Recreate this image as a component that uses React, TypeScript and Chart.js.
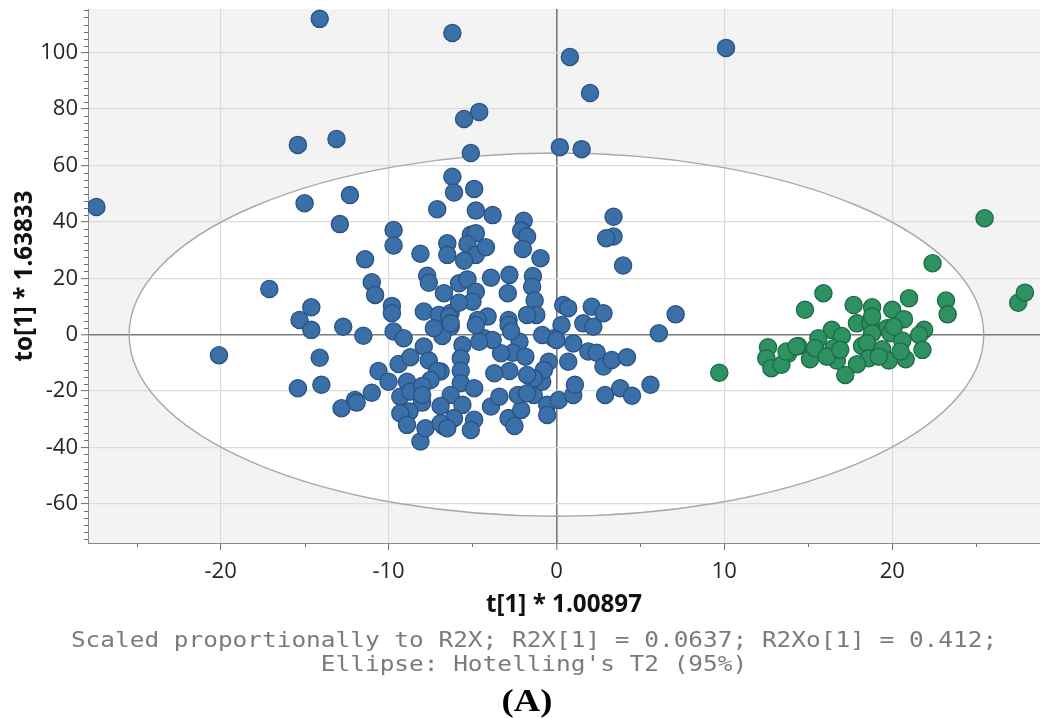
import React, { useEffect, useRef } from "react";
import { Chart, registerables } from "chart.js";

Chart.register(...registerables);

// ---- axis ranges and tick labels ----
const X_MIN = -27.9;
const X_MAX = 28.8;
const Y_MIN = -73.9;
const Y_MAX = 115.5;
const X_TICKS = [-20, -10, 0, 10, 20];
const Y_TICKS = [-60, -40, -20, 0, 20, 40, 60, 80, 100];
const X_MINOR_TICKS = [-25, -15, -5, 5, 15, 25];
const Y_MINOR_STEP = 2.5;

// ---- texts ----
const X_TITLE = "t[1] * 1.00897";
const Y_TITLE = "to[1] * 1.63833";
const CAPTION_LINES = [
  "Scaled proportionally to R2X; R2X[1] = 0.0637; R2Xo[1] = 0.412;",
  "Ellipse: Hotelling's T2 (95%)",
];
const PANEL_LABEL = "(A)";

// ---- Hotelling's T2 ellipse semi-axes (data units) ----
const ELLIPSE_T = 25.45;
const ELLIPSE_TO = 64.4;

// ---- scores: [t, to] ----
const blueScores: [number, number][] = [
  [-27.4, 45.3], [-14.1, 112], [-6.2, 107], [10.1, 101.7], [0.8, 98.5], [2.0, 85.7],
  [-15.4, 67.3], [-13.1, 69.4], [-4.6, 79], [-5.5, 76.5], [-5.1, 64.4], [0.2, 66.5], [1.5, 65.8],
  [-15.0, 46.6], [-12.3, 49.5], [-12.9, 39.2], [-17.1, 16.2], [-20.1, -7.3],
  [-15.3, 5.2], [-14.6, 9.7], [-14.6, 1.7], [-12.7, 2.8], [-14.1, -8.2], [-15.4, -19], [-14.0, -17.8],
  [-12.8, -26.1], [-12.0, -23.2], [-11.9, -24.1],
  [-9.7, 37.1], [-9.7, 31.6], [-11.4, 26.7], [-8.1, 28.7], [-7.1, 44.5], [-6.2, 56], [-6.1, 50.4],
  [-6.5, 32.4], [-6.5, 28.3], [-11.0, 18.6], [-10.8, 14.1], [-7.7, 20.9], [-7.6, 18.4], [-6.7, 14.7],
  [-9.8, 10.2], [-9.8, 7.6], [-7.9, 8.2], [-7.0, 7.0], [-6.3, 7.7],
  [-4.9, 51.7], [-4.8, 44], [-3.8, 42.4], [-1.95, 40.4], [-2.1, 36.9], [-1.75, 34.8], [-2.0, 30.4],
  [-0.95, 27.1], [3.4, 41.8], [3.4, 34.8], [2.96, 34.2], [3.97, 24.5], [-5.1, 35.4], [-4.8, 36],
  [-5.3, 32.1], [-4.8, 28.3], [-5.5, 26.2], [-4.2, 31], [-3.9, 20.2], [-2.8, 21.2], [-2.9, 14.7],
  [-1.4, 20.8], [-1.45, 17], [-1.3, 12.1], [-1.2, 7], [-1.75, 7], [-5.8, 18.2], [-5.3, 19.6],
  [-4.8, 15.2], [-5.0, 11.7], [-5.8, 11.3], [-4.1, 6.4], [-2.85, 5.2], [-4.7, 5.2],
  [0.4, 10.5], [0.7, 9.4], [2.1, 9.9], [2.8, 7.6], [1.6, 4],
  [0.3, 3.4], [2.2, 2.8], [6.1, 0.5], [1.0, -3.1], [0.7, -9.6], [1.9, -6.0], [2.4, -6.4], [2.8, -11.3],
  [3.3, -9], [4.2, -8.0], [5.6, -17.8], [2.9, -21.4], [3.8, -19], [4.5, -21.7],
  [-0.16, -1.3], [-0.85, -0.1], [-2.2, -2.5], [-2.6, -6.4], [-1.85, -7.8], [-2.8, -12.9], [-3.7, -13.7],
  [-3.3, -6.6], [-4.3, -1.3], [-3.8, -1.9], [-4.6, -2.5], [-4.8, 3.4], [-2.85, 3.4], [-2.7, 1.1],
  [-5.6, -3.7], [-5.7, -8.4], [-5.7, -12.8], [-5.7, -17.2], [-6.4, 6.4], [-6.3, 2.8], [-6.8, -0.5],
  [-6.9, -13.1], [-6.3, -21.4], [-5.6, -24.9], [-4.9, -19], [-4.9, -30.2], [-6.1, -29.6], [-5.1, -33.8],
  [-6.7, -32.6], [-3.9, -25.5], [-3.4, -22], [-2.85, -29.6], [-2.5, -32.4], [-2.1, -26.7], [-2.3, -21.4],
  [-1.35, -21.4], [-0.85, -16.7], [-0.55, -24.9], [-0.55, -28.5], [0.14, -23.2], [1.0, -21.4], [1.1, -17.8],
  [-0.46, -9.6], [-0.75, -12.5], [-1.35, -15.5], [-1.75, -14.3],
  [-11.5, -0.4], [-11.0, -20.6], [-10.6, -12.9], [-10.0, -16.7], [-9.4, -10.4], [-8.7, -8.0], [-7.9, -4.2],
  [-7.6, -9.2], [-7.1, -12.9], [-7.5, -16.1], [-9.3, -22], [-8.9, -16.7], [-8.7, -20.2], [-8.0, -18.2],
  [-8.0, -24.1], [-8.75, -27.3], [-9.3, -27.9], [-8.9, -32], [-8.1, -37.9], [-7.8, -33.2], [-6.9, -25.3],
  [-6.9, -31.4], [-6.5, -33.2], [-9.7, 1.1], [-9.1, -1.3], [-7.3, 2.3], [-6.3, 4.0],
  [7.1, 7.2], [0, -1.9], [-8.0, -21.4], [-1.75, -20.8],
];

const greenScores: [number, number][] = [
  [25.5, 41.3], [22.4, 25.3], [9.7, -13.5], [14.8, 8.8], [15.9, 14.7], [17.7, 10.5], [18.8, 9.7],
  [20.0, 8.8], [21.0, 12.9], [23.2, 12.1], [23.3, 7.2], [27.5, 11.3], [27.9, 14.9], [17.9, 4.0],
  [18.7, 4.0], [18.8, 6.4], [20.7, 5.5], [19.7, 2.3], [19.9, 0.5], [18.8, 0.5], [21.9, 1.7],
  [21.6, -0.1], [16.4, 1.7], [17.0, -0.5], [15.6, -1.3], [18.2, -4.0], [18.5, -3.0], [19.4, -5.2],
  [20.6, -2.1], [21.8, -5.4], [20.8, -8.7], [19.8, -9.2], [18.6, -8.4], [17.9, -10.5], [17.2, -14.3],
  [16.7, -9.2], [16.5, -4.8], [15.1, -8.7], [14.4, -4.0], [13.8, -6.8], [12.6, -4.5], [12.5, -8.4],
  [12.8, -11.9], [13.4, -10.7], [13.7, -6.0], [14.3, -4.2], [15.4, -4.8], [16.1, -7.8], [16.9, -5.4],
  [19.2, -7.8], [20.5, -6.0], [20.1, 2.8],
];

const SANS = '"Open Sans", "Noto Sans", sans-serif';

// layout of the texts under the x axis (pixels)
const CAPTION_CX = 534;
const CAPTION_BASELINES = [647, 671];
const CAPTION_STRETCH = 1.11;
const LABEL_CX = 527;
const LABEL_BASELINE = 711;
const LABEL_STRETCH = 1.18;

function ellipseGeom(chart: any) {
  const x = chart.scales.x, y = chart.scales.y;
  const cx = x.getPixelForValue(0), cy = y.getPixelForValue(0);
  return {
    cx,
    cy,
    rx: x.getPixelForValue(ELLIPSE_T) - cx,
    ry: cy - y.getPixelForValue(ELLIPSE_TO),
  };
}

const plotDecor = {
  id: "plotDecor",
  beforeDraw(chart: any) {
    const { ctx, chartArea: a } = chart;
    const { cx, cy, rx, ry } = ellipseGeom(chart);
    ctx.save();
    ctx.fillStyle = "#f3f3f3";
    ctx.fillRect(a.left, a.top, a.right - a.left, a.bottom - a.top);
    ctx.beginPath();
    ctx.rect(a.left, a.top, a.right - a.left, a.bottom - a.top);
    ctx.clip();
    ctx.beginPath();
    ctx.ellipse(cx, cy, rx, ry, 0, 0, Math.PI * 2);
    ctx.fillStyle = "#ffffff";
    ctx.fill();
    ctx.restore();
  },
  beforeDatasetsDraw(chart: any) {
    const { ctx, chartArea: a, scales } = chart;
    const x = scales.x, y = scales.y;
    const { cx, cy, rx, ry } = ellipseGeom(chart);
    ctx.save();
    ctx.beginPath();
    ctx.ellipse(cx, cy, rx, ry, 0, 0, Math.PI * 2);
    ctx.strokeStyle = "#a8a8a8";
    ctx.lineWidth = 1.4;
    ctx.stroke();
    // minor ticks
    ctx.strokeStyle = "#6e6e6e";
    ctx.lineWidth = 1;
    ctx.beginPath();
    for (const v of X_MINOR_TICKS) {
      const px = Math.round(x.getPixelForValue(v)) + 0.5;
      ctx.moveTo(px, a.bottom);
      ctx.lineTo(px, a.bottom + 4);
    }
    for (let v = Math.ceil(Y_MIN / Y_MINOR_STEP) * Y_MINOR_STEP; v <= Y_MAX; v += Y_MINOR_STEP) {
      if (Math.abs(v % 20) < 1e-6) continue;
      const py = Math.round(y.getPixelForValue(v)) + 0.5;
      ctx.moveTo(a.left - 4, py);
      ctx.lineTo(a.left, py);
    }
    ctx.stroke();
    ctx.restore();
  },
  afterDraw(chart: any) {
    const ctx = chart.ctx;
    ctx.save();
    ctx.textAlign = "center";
    ctx.textBaseline = "alphabetic";
    ctx.fillStyle = "#7b7b7b";
    ctx.font = '22px "DejaVu Sans Mono", monospace';
    CAPTION_LINES.forEach((line, i) => {
      ctx.save();
      ctx.translate(CAPTION_CX, CAPTION_BASELINES[i]);
      ctx.scale(CAPTION_STRETCH, 1);
      ctx.fillText(line, 0, 0);
      ctx.restore();
    });
    ctx.fillStyle = "#000000";
    ctx.font = 'bold 31px "Liberation Serif", "DejaVu Serif", serif';
    ctx.translate(LABEL_CX, LABEL_BASELINE);
    ctx.scale(LABEL_STRETCH, 1);
    ctx.fillText(PANEL_LABEL, 0, 0);
    ctx.restore();
  },
};

const gridColor = (c: any) => (c.tick && c.tick.value === 0 ? "#7a7a7a" : "#dcdcdc");
const gridWidth = (c: any) => (c.tick && c.tick.value === 0 ? 1.6 : 1.2);

const zeroPadding = (s: any) => {
  s.paddingTop = 0;
  s.paddingBottom = 0;
  s.paddingLeft = 0;
  s.paddingRight = 0;
};

export default function App() {
  const ref = useRef<HTMLCanvasElement>(null);
  useEffect(() => {
    if (!ref.current) return;
    const chart = new Chart(ref.current, {
      type: "scatter",
      data: {
        datasets: [
          {
            label: "Group 1",
            data: blueScores.map(([t, to]) => ({ x: t, y: to })),
            backgroundColor: "#3b6fa8",
            borderColor: "#2a5283",
            borderWidth: 1.3,
            pointRadius: 8.6,
            pointHoverRadius: 8.6,
          },
          {
            label: "Group 2",
            data: greenScores.map(([t, to]) => ({ x: t, y: to })),
            backgroundColor: "#2e9161",
            borderColor: "#1f6a45",
            borderWidth: 1.3,
            pointRadius: 8.6,
            pointHoverRadius: 8.6,
          },
        ],
      },
      options: {
        responsive: false,
        animation: false,
        events: [],
        layout: { autoPadding: false, padding: { top: 9, right: 0, left: 0, bottom: 0 } },
        plugins: {
          legend: { display: false },
          tooltip: { enabled: false },
          title: { display: false },
          subtitle: { display: false },
        },
        scales: {
          x: {
            type: "linear",
            min: X_MIN,
            max: X_MAX,
            afterBuildTicks: (s: any) => {
              s.ticks = X_TICKS.map((v) => ({ value: v }));
            },
            afterFit: (s: any) => {
              s.height = 175;
              zeroPadding(s);
            },
            ticks: {
              autoSkip: false,
              maxRotation: 0,
              padding: 9,
              color: "#262626",
              font: { family: SANS, size: 22 },
            },
            grid: { color: gridColor, lineWidth: gridWidth, tickColor: "#6e6e6e", tickLength: 7, tickWidth: 1 },
            border: { display: true, color: "#8a8a8a", width: 1 },
            title: {
              display: true,
              text: X_TITLE,
              color: "#111111",
              font: { family: SANS, size: 24.2, weight: "bold", lineHeight: "24px" },
              padding: { top: 0, bottom: 101 },
            },
          },
          y: {
            type: "linear",
            min: Y_MIN,
            max: Y_MAX,
            afterBuildTicks: (s: any) => {
              s.ticks = Y_TICKS.map((v) => ({ value: v }));
            },
            afterFit: (s: any) => {
              s.width = 88;
              zeroPadding(s);
            },
            ticks: {
              autoSkip: false,
              padding: 3,
              color: "#262626",
              font: { family: SANS, size: 22 },
            },
            grid: { color: gridColor, lineWidth: gridWidth, tickColor: "#6e6e6e", tickLength: 7, tickWidth: 1 },
            border: { display: true, color: "#8a8a8a", width: 1 },
            title: {
              display: true,
              text: Y_TITLE,
              color: "#111111",
              font: { family: SANS, size: 24.2, weight: "bold", lineHeight: "24px" },
              padding: { top: 13, bottom: 0 },
            },
          },
        },
      },
      plugins: [plotDecor],
    } as any);
    return () => chart.destroy();
  }, []);
  return (
    <div style={{ position: "absolute", left: 0, top: 0, width: 1040, height: 718, background: "#ffffff" }}>
      <canvas ref={ref} width={1040} height={718} style={{ display: "block", width: 1040, height: 718 }} />
    </div>
  );
}
